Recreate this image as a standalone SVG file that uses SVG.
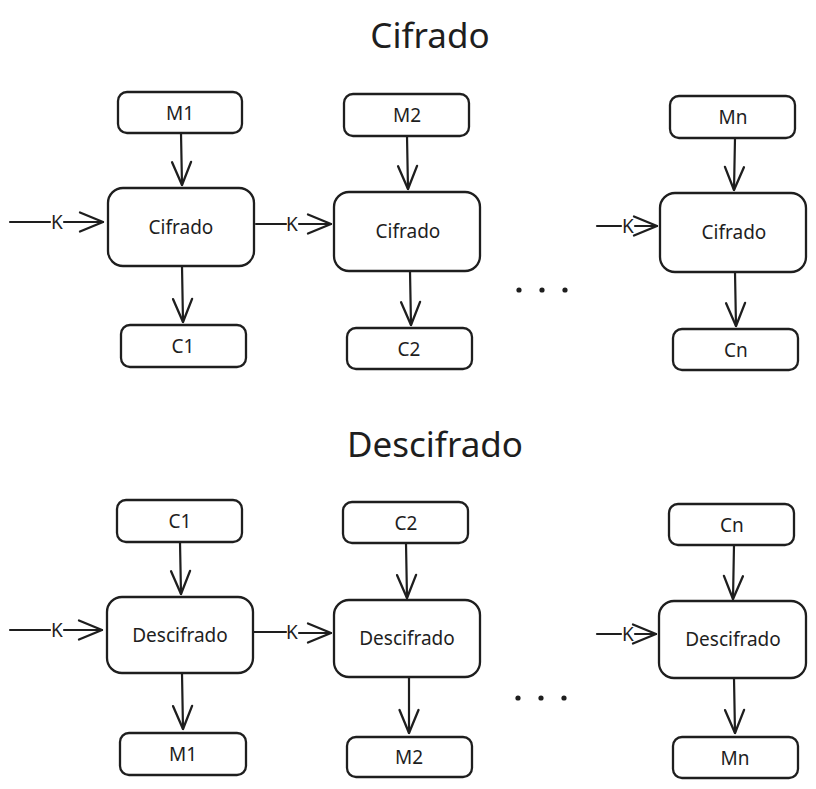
<svg xmlns="http://www.w3.org/2000/svg" width="816" height="789" viewBox="0 0 816 789">
<defs>
<marker id="ah" markerUnits="userSpaceOnUse" markerWidth="30" markerHeight="24" refX="0" refY="0" viewBox="-26 -12 30 24" orient="auto" overflow="visible">
<path d="M -23 -9.5 L 0 0 L -23 9.5" fill="none" stroke="#1e1e1e" stroke-width="2.3" stroke-linecap="round" stroke-linejoin="round"/>
</marker>
<style>
.box{fill:#fff;stroke:#1e1e1e;stroke-width:2.3}
.t{font-family:"Noto Sans","Open Sans",sans-serif;fill:#1e1e1e;text-anchor:middle;dominant-baseline:central}
.n{font-size:19px}
.k{font-size:19px}
.title{font-family:"Noto Sans","Open Sans",sans-serif;fill:#1e1e1e;text-anchor:middle;font-size:35px}
.c{fill:none;stroke:#1e1e1e;stroke-width:2.2;stroke-linecap:round}
.a{marker-end:url(#ah)}
.dot{fill:#1e1e1e}
</style>
</defs>
<rect width="816" height="789" fill="#fff"/>

<text class="title" x="430" y="48">Cifrado</text>
<text class="title" x="435" y="457">Descifrado</text>

<g id="connectors">
<path class="c a" d="M 181 133 L 182 185"/>
<path class="c a" d="M 182 266 L 183 322"/>
<path class="c a" d="M 407 136 L 408 189"/>
<path class="c a" d="M 410 271 L 411 325"/>
<path class="c a" d="M 735 138 L 734 190"/>
<path class="c a" d="M 735 272 L 736 326"/>
<path class="c" d="M 10 222 L 50 222"/><path class="c a" d="M 64 222 L 103 222"/>
<text class="t k" x="57" y="222">K</text>
<path class="c" d="M 256 224 L 286 224"/><path class="c a" d="M 299 224 L 331 224"/>
<text class="t k" x="292" y="224">K</text>
<path class="c" d="M 597 226 L 621 226"/><path class="c a" d="M 635 226 L 657 226"/>
<text class="t k" x="628" y="226">K</text>
<path class="c a" d="M 180 542 L 181 594"/>
<path class="c a" d="M 182 673 L 183 729"/>
<path class="c a" d="M 406 543 L 407 598"/>
<path class="c a" d="M 409 677 L 409 733"/>
<path class="c a" d="M 734 545 L 733 599"/>
<path class="c a" d="M 734 678 L 735 733"/>
<path class="c" d="M 10 630 L 50 630"/><path class="c a" d="M 64 630 L 102 630"/>
<text class="t k" x="57" y="630">K</text>
<path class="c" d="M 254 632 L 286 632"/><path class="c a" d="M 299 633 L 331 633"/>
<text class="t k" x="292" y="632">K</text>
<path class="c" d="M 597 634 L 621 634"/><path class="c a" d="M 635 634 L 656 634"/>
<text class="t k" x="628" y="634">K</text>
</g>

<g id="m1"><rect class="box" x="118" y="92" width="124" height="41" rx="9"/><text class="t n" x="180" y="113">M1</text></g>
<g id="cif1"><rect class="box" x="108" y="188" width="146" height="78" rx="15"/><text class="t n" x="181" y="227">Cifrado</text></g>
<g id="c1"><rect class="box" x="121" y="325" width="125" height="42" rx="9"/><text class="t n" x="183" y="346">C1</text></g>

<g id="m2"><rect class="box" x="344" y="94" width="125" height="42" rx="9"/><text class="t n" x="407" y="115">M2</text></g>
<g id="cif2"><rect class="box" x="334" y="192" width="146" height="79" rx="15"/><text class="t n" x="408" y="231">Cifrado</text></g>
<g id="c2"><rect class="box" x="347" y="328" width="125" height="41" rx="9"/><text class="t n" x="409" y="349">C2</text></g>

<g id="mn"><rect class="box" x="670" y="96" width="125" height="42" rx="9"/><text class="t n" x="733" y="117">Mn</text></g>
<g id="cifn"><rect class="box" x="660" y="193" width="146" height="79" rx="15"/><text class="t n" x="734" y="232">Cifrado</text></g>
<g id="cn"><rect class="box" x="673" y="329" width="125" height="41" rx="9"/><text class="t n" x="736" y="350">Cn</text></g>

<g id="dots1"><circle class="dot" cx="519" cy="290" r="2.6"/><circle class="dot" cx="542" cy="290" r="2.6"/><circle class="dot" cx="565" cy="290" r="2.6"/></g>

<g id="dc1"><rect class="box" x="117" y="500" width="125" height="42" rx="9"/><text class="t n" x="180" y="521">C1</text></g>
<g id="des1"><rect class="box" x="107" y="597" width="146" height="76" rx="15"/><text class="t n" x="180" y="635">Descifrado</text></g>
<g id="dm1"><rect class="box" x="120" y="733" width="126" height="42" rx="9"/><text class="t n" x="183" y="754">M1</text></g>

<g id="dc2"><rect class="box" x="343" y="502" width="125" height="41" rx="9"/><text class="t n" x="406" y="523">C2</text></g>
<g id="des2"><rect class="box" x="334" y="600" width="146" height="77" rx="15"/><text class="t n" x="407" y="638">Descifrado</text></g>
<g id="dm2"><rect class="box" x="347" y="737" width="125" height="40" rx="9"/><text class="t n" x="409" y="757">M2</text></g>

<g id="dcn"><rect class="box" x="669" y="504" width="125" height="41" rx="9"/><text class="t n" x="732" y="525">Cn</text></g>
<g id="desn"><rect class="box" x="659" y="601" width="147" height="77" rx="15"/><text class="t n" x="733" y="639">Descifrado</text></g>
<g id="dmn"><rect class="box" x="673" y="737" width="125" height="41" rx="9"/><text class="t n" x="735" y="758">Mn</text></g>

<g id="dots2"><circle class="dot" cx="518" cy="698" r="2.6"/><circle class="dot" cx="541" cy="698" r="2.6"/><circle class="dot" cx="564" cy="698" r="2.6"/></g>
</svg>
